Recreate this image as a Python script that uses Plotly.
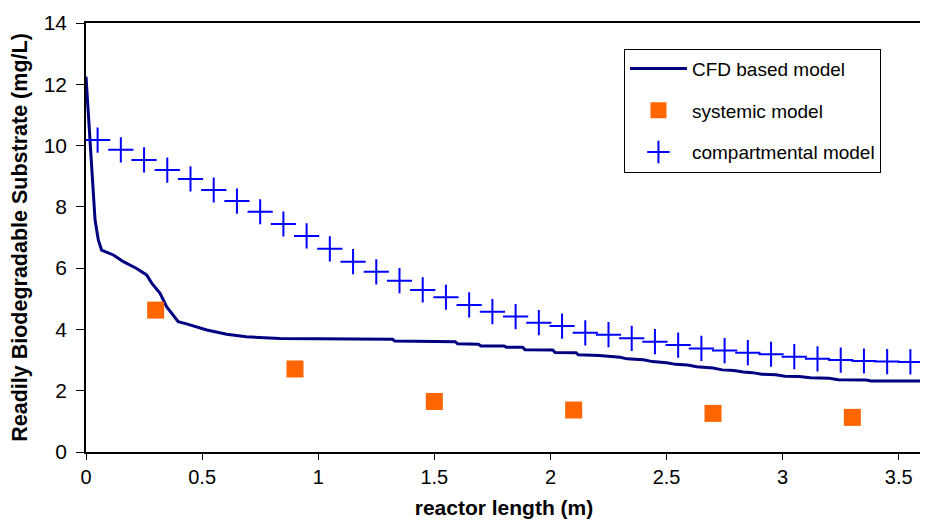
import plotly.graph_objects as go

# CFD based model (continuous curve)
cfd_x = [0, 0.017, 0.031, 0.039, 0.053, 0.067, 0.118, 0.161, 0.218, 0.261, 0.283, 0.319,
         0.347, 0.397, 0.433, 0.52, 0.606, 0.69, 0.835, 1.32, 1.33, 1.59, 1.60, 1.69, 1.70,
         1.80, 1.81, 1.88, 1.89, 2.01, 2.02, 2.11, 2.12, 2.21, 2.30, 2.33, 2.40, 2.44, 2.50,
         2.54, 2.59, 2.63, 2.70, 2.74, 2.79, 2.83, 2.87, 2.91, 2.97, 3.01, 3.07, 3.12, 3.20,
         3.24, 3.36, 3.38, 3.6]
cfd_y = [12.25, 10.18, 8.44, 7.57, 6.92, 6.59, 6.43, 6.21, 5.99, 5.78, 5.51, 5.18,
         4.74, 4.25, 4.18, 3.98, 3.84, 3.76, 3.70, 3.68, 3.62, 3.60, 3.53, 3.52, 3.46,
         3.46, 3.42, 3.42, 3.34, 3.33, 3.25, 3.24, 3.17, 3.15, 3.09, 3.04, 3.01, 2.95, 2.91,
         2.86, 2.84, 2.78, 2.74, 2.68, 2.66, 2.61, 2.59, 2.54, 2.52, 2.47, 2.46, 2.42, 2.41,
         2.36, 2.35, 2.32, 2.32]

# systemic model
sys_x = [0.3, 0.9, 1.5, 2.1, 2.7, 3.3]
sys_y = [4.63, 2.71, 1.65, 1.37, 1.26, 1.13]

# compartmental model
comp_x = [0.05, 0.15, 0.25, 0.35, 0.45, 0.55, 0.65, 0.75, 0.85, 0.95, 1.05, 1.15,
          1.25, 1.35, 1.45, 1.55, 1.65, 1.75, 1.85, 1.95, 2.05, 2.15, 2.25, 2.35,
          2.45, 2.55, 2.65, 2.75, 2.85, 2.95, 3.05, 3.15, 3.25, 3.35, 3.45, 3.55]
comp_y = [10.18, 9.86, 9.53, 9.20, 8.91, 8.55, 8.19, 7.84, 7.44, 7.05, 6.63, 6.21,
          5.88, 5.59, 5.29, 5.05, 4.80, 4.58, 4.42, 4.22, 4.11, 3.89, 3.83, 3.71,
          3.60, 3.49, 3.38, 3.31, 3.24, 3.19, 3.11, 3.04, 3.00, 2.97, 2.95, 2.94]

x_ticks = [0, 0.5, 1, 1.5, 2, 2.5, 3, 3.5]
x_tick_labels = ["0", "0.5", "1", "1.5", "2", "2.5", "3", "3.5"]
y_ticks = [0, 2, 4, 6, 8, 10, 12, 14]

FONT = "Arial, 'Liberation Sans', sans-serif"

fig = go.Figure()
fig.add_trace(go.Scatter(x=cfd_x, y=cfd_y, mode="lines", name="CFD based model",
                         line=dict(color="#000080", width=3), legendgroup="a"))
fig.add_trace(go.Scatter(x=sys_x, y=sys_y, mode="markers", name="systemic model",
                         marker=dict(symbol="square", size=17, color="#FF6600"),
                         legendgroup="b"))
fig.add_trace(go.Scatter(x=comp_x, y=comp_y, mode="markers", name="compartmental model",
                         marker=dict(symbol="cross-thin", size=18,
                                     line=dict(color="#0000FF", width=2)),
                         legendgroup="c"))

# the page body adds an 8px offset, so the figure is sized to 920x512
fig.update_layout(
    width=920, height=512,
    margin=dict(l=78, r=6, t=15, b=68),
    paper_bgcolor="white", plot_bgcolor="white",
    font=dict(family=FONT, color="black", size=18),
    showlegend=True,
    legend=dict(x=0.6435, y=0.94, xanchor="left", yanchor="top",
                bordercolor="black", borderwidth=1, bgcolor="white",
                font=dict(size=19, family=FONT), tracegroupgap=14,
                itemwidth=57),
    xaxis=dict(range=[0, 3.6], tickvals=x_ticks, ticktext=x_tick_labels,
               ticks="outside", ticklen=6, tickcolor="black", automargin=False,
               showline=True, linecolor="black", linewidth=1.5, mirror=True,
               showgrid=False, zeroline=False,
               tickfont=dict(size=20),
               title=dict(text="<b>reactor length (m)</b>", font=dict(size=21), standoff=14)),
    yaxis=dict(range=[0, 14], tickvals=y_ticks, automargin=False,
               ticks="outside", ticklen=8, tickcolor="black", ticklabelstandoff=5,
               showline=True, linecolor="black", linewidth=1.5, mirror=True,
               showgrid=False, zeroline=False,
               tickfont=dict(size=21),
               title=dict(text="<b>Readily Biodegradable Substrate (mg/L)</b>",
                          font=dict(size=21.5), standoff=12)),
)

fig.write_html("out.html")
